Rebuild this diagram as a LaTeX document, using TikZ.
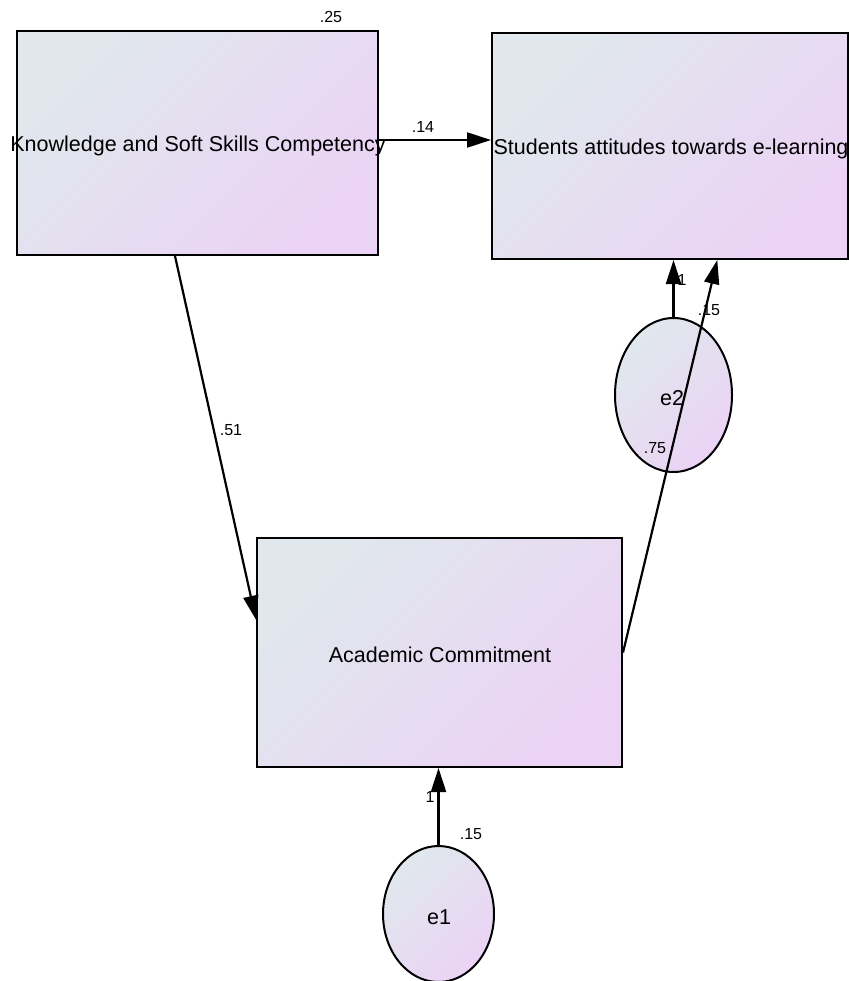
\documentclass[tikz,border=0pt]{standalone}
\usepackage{fontspec}
\setmainfont{Liberation Sans}
\usetikzlibrary{arrows.meta,calc,shapes.geometric}
\definecolor{gradA}{RGB}{224,232,237}
\definecolor{gradB}{RGB}{235,211,245}
\begin{document}
\begin{tikzpicture}[x=1pt,y=-1pt,
    varbox/.style={draw,line width=2pt,inner sep=0pt,top color=gradA,bottom color=gradB,shading angle=45},
    errnode/.style={ellipse,draw,line width=2pt,inner sep=0pt,top color=gradA,bottom color=gradB,shading angle=45},
    boxtext/.style={font=\fontsize{21.5}{24}\selectfont,inner sep=0pt},
    pathline/.style={line width=2.2pt,-{Triangle[length=24pt,width=15pt]}},
    est/.style={font=\fontsize{16}{18}\selectfont,inner sep=0pt}]
    \useasboundingbox (0,0) rectangle (848,981);
    \node[varbox,minimum width=361pt,minimum height=224pt] (know) at (197.5,143) {};
    \node[varbox,minimum width=356pt,minimum height=226pt] (stud) at (670,146) {};
    \node[varbox,minimum width=365pt,minimum height=229pt] (acad) at (439.5,652.5) {};
    \node[errnode,minimum width=117pt,minimum height=154pt] (e2) at (673.5,395) {};
    \node[errnode,minimum width=111pt,minimum height=136pt] (e1) at (438.5,914) {};
    \node[boxtext] (knowtxt) at (198,146) {Knowledge and Soft Skills Competency};
    \node[boxtext] (studtxt) at (671,149) {Students attitudes towards e-learning};
    \node[boxtext] (acadtxt) at (440,655) {Academic Commitment};
    \node[boxtext] (e2txt) at (672,398) {e2};
    \node[boxtext] (e1txt) at (439,917) {e1};
    \draw[pathline] (know.east |- 0,140) -- (stud.west |- 0,140);
    \draw[pathline] ($(know.south west)!0.438!(know.south east)$) -- ($(acad.north west)!0.358!(acad.south west)$);
    \draw[pathline] (e2.north) -- (e2.north |- stud.south);
    \draw[pathline] (acad.east) -- ($(stud.south west)!0.632!(stud.south east)$);
    \draw[pathline] (e1.north) -- (e1.north |- acad.south);
    \node[est] (v1) at (331,17) {.25};
    \node[est] (b1) at (423,127) {.14};
    \node[est] (b2) at (231,430) {.51};
    \node[est] (b3) at (655,448) {.75};
    \node[est] (w2) at (682,280) {1};
    \node[est] (v2) at (709,310) {.15};
    \node[est] (w1) at (430,797) {1};
    \node[est] (v3) at (471,834) {.15};
\end{tikzpicture}
\end{document}
